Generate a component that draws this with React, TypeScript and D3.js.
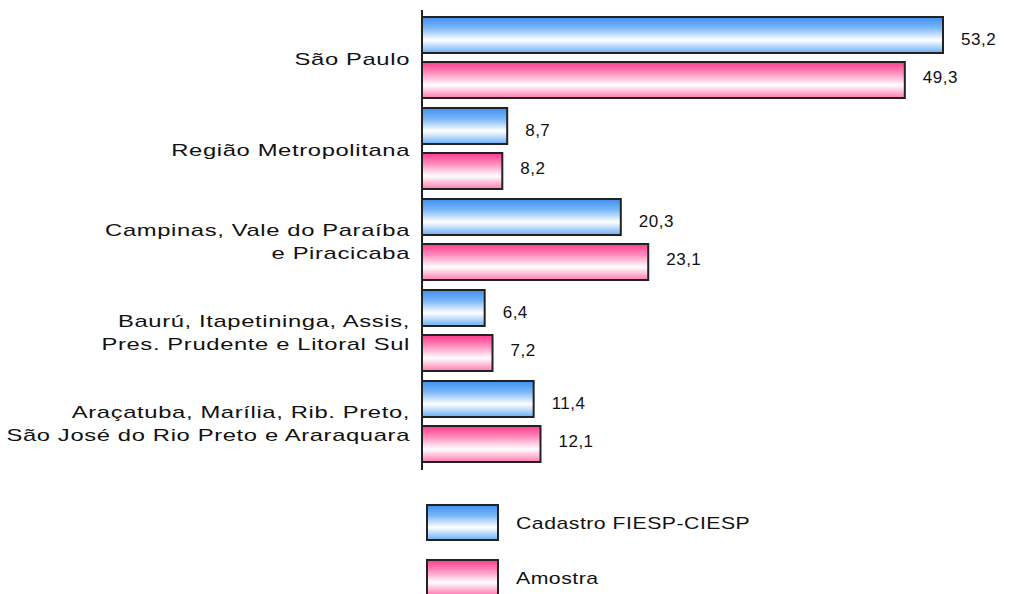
import React from "react";
import * as d3 from "d3";

const categories = [
  "São Paulo",
  "Região Metropolitana",
  "Campinas, Vale do Paraíba\ne Piracicaba",
  "Baurú, Itapetininga, Assis,\nPres. Prudente e Litoral Sul",
  "Araçatuba, Marília, Rib. Preto,\nSão José do Rio Preto e Araraquara",
];
const seriesNames = ["Cadastro FIESP-CIESP", "Amostra"];
const cadastro = [53.2, 8.7, 20.3, 6.4, 11.4];
const amostra = [49.3, 8.2, 23.1, 7.2, 12.1];
const seriesValues = [cadastro, amostra];
const gradIds = ["gBlue", "gPink"];

const W = 1011;
const H = 594;
const axisX = 422;
const font = "'Liberation Sans', Arial, sans-serif";

export default function App() {
  const x = d3.scaleLinear().domain([0, 53.2]).range([axisX, 943]);
  const y0 = d3.scaleBand<string>().domain(categories).range([12, 467]).padding(0);
  const y1 = d3
    .scaleBand<string>()
    .domain(seriesNames)
    .range([0, y0.step()])
    .paddingInner(0.2)
    .paddingOuter(0.111);
  const fmt = (v: number) => v.toFixed(1).replace(".", ",");
  const labelOffset = [5, -3];
  const lineGap = 23;

  return (
    <svg width={W} height={H} style={{ position: "absolute", left: 0, top: 0, background: "#fff" }}>
      <defs>
        <linearGradient id="gBlue" x1="0" y1="0" x2="0" y2="1">
          <stop offset="0" stopColor="#3f8ff0" />
          <stop offset="0.3" stopColor="#7ab6f7" />
          <stop offset="0.64" stopColor="#ffffff" />
          <stop offset="1" stopColor="#6aaef5" />
        </linearGradient>
        <linearGradient id="gPink" x1="0" y1="0" x2="0" y2="1">
          <stop offset="0" stopColor="#ff3a8c" />
          <stop offset="0.3" stopColor="#ff8cbc" />
          <stop offset="0.64" stopColor="#ffffff" />
          <stop offset="1" stopColor="#ff7ab0" />
        </linearGradient>
      </defs>
      {categories.map((c, i) => {
        const g = y0(c)!;
        const lines = c.split("\n");
        const cy = g + y0.step() / 2 + 1;
        return (
          <g key={c}>
            <text
              transform={`translate(410,${cy - ((lines.length - 1) * lineGap) / 2}) scale(1.4,1)`}
              textAnchor="end"
              dominantBaseline="central"
              fontFamily={font}
              fontSize={17}
              letterSpacing={0.45}
              fill="#111"
            >
              {lines.map((l, k) => (
                <tspan key={k} x={0} dy={k === 0 ? 0 : lineGap}>
                  {l}
                </tspan>
              ))}
            </text>
            {seriesNames.map((s, j) => {
              const v = seriesValues[j][i];
              const by = g + y1(s)!;
              return (
                <g key={s}>
                  <rect
                    x={x(0)}
                    y={by}
                    width={x(v) - x(0)}
                    height={y1.bandwidth()}
                    fill={`url(#${gradIds[j]})`}
                    stroke="#222"
                    strokeWidth={2}
                  />
                  <text
                    x={x(v) + 18}
                    y={by + y1.bandwidth() / 2 + labelOffset[j]}
                    dominantBaseline="central"
                    fontFamily={font}
                    fontSize={17}
                    letterSpacing={0.5}
                    fill="#111"
                  >
                    {fmt(v)}
                  </text>
                </g>
              );
            })}
          </g>
        );
      })}
      <line x1={axisX} x2={axisX} y1={10} y2={470} stroke="#222" strokeWidth={2} />
      {seriesNames.map((s, j) => (
        <g key={s}>
          <rect
            x={427}
            y={505 + j * 55}
            width={71}
            height={35}
            fill={`url(#${gradIds[j]})`}
            stroke="#222"
            strokeWidth={2}
          />
          <text
            transform={`translate(516,${523 + j * 55}) scale(1.25,1)`}
            dominantBaseline="central"
            fontFamily={font}
            fontSize={17}
            letterSpacing={0.4}
            fill="#111"
          >
            {s}
          </text>
        </g>
      ))}
    </svg>
  );
}
